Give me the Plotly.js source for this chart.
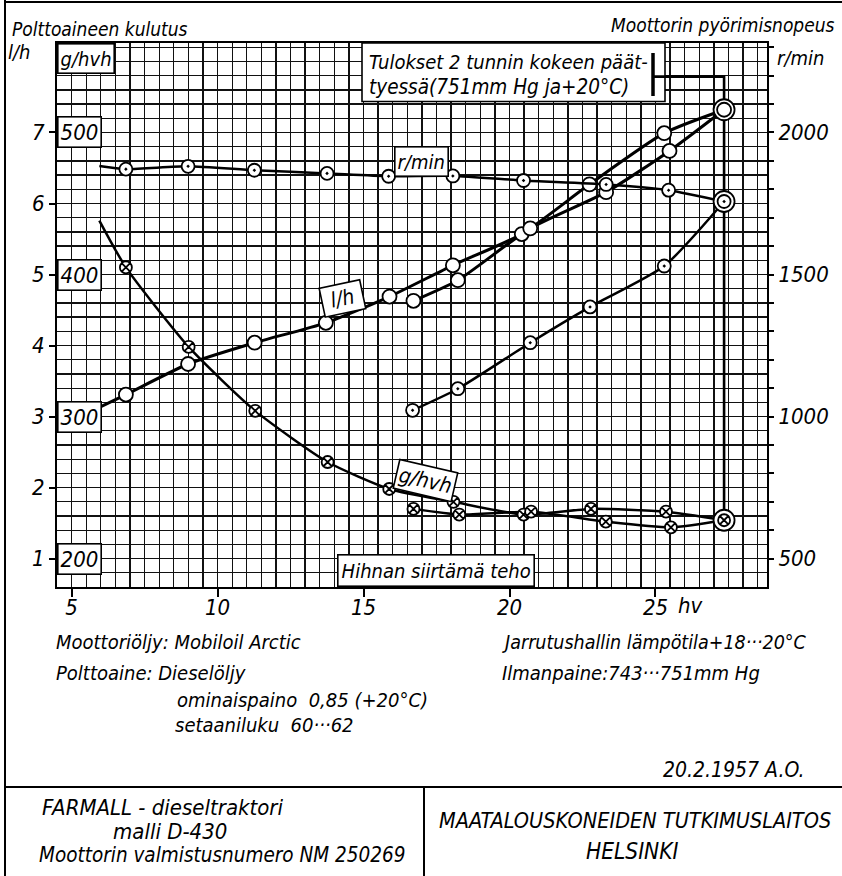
<!DOCTYPE html>
<html><head><meta charset="utf-8">
<script src="https://cdn.plot.ly/plotly-3.0.1.min.js"></script>
<style>html,body{margin:0;padding:0;background:#fff}#chart{width:842px;height:876px}</style>
</head><body><div id="chart"></div>
<script>
// ---- Data ----
// Engine speed r/min, governed (partial load) series
const hvSpeedGov  = [6.86, 8.99, 11.26, 13.75, 15.86, 18.06, 20.48, 23.31, 25.45];
const rpmSpeedGov = [1871, 1881, 1867, 1856, 1846, 1847, 1831, 1817, 1797];
// Engine speed r/min, full throttle series
const hvSpeedFull  = [16.68, 18.23, 20.71, 22.76, 25.30];
const rpmSpeedFull = [1022, 1098, 1260, 1386, 1530];
// Fuel consumption l/h
const hvFuelGov  = [6.86, 8.99, 11.27, 13.71, 15.89, 18.06, 20.42, 22.74, 25.30];
const lhFuelGov  = [3.31, 3.74, 4.04, 4.32, 4.69, 5.13, 5.57, 6.27, 6.99];
const hvFuelFull = [16.71, 18.23, 20.71, 23.31, 25.48];
const lhFuelFull = [4.63, 4.92, 5.65, 6.16, 6.74];
// Specific consumption g/hvh
const hvSpecGov  = [6.86, 9.01, 11.29, 13.77, 15.88, 18.08, 20.48, 22.79, 25.36];
const gSpecGov   = [405, 349, 304, 268, 249, 240, 231, 235, 233];
const hvSpecFull = [16.71, 18.28, 20.74, 23.30, 25.53];
const gSpecFull  = [235, 231, 233, 226, 222];
// Result at end of the 2-hour test (maximum power)
const hvMax = 27.35, rpmMax = 1757, lhMax = 7.32, gMax = 227;
// Left ends of the faired curves
const curveStartHv = 5.95, rpmCurveStart = 1882, lhCurveStart = 3.13, gCurveStart = 438;

// ---- Axis ticks ----
const xTickVals = [5, 10, 15, 20, 25];
const xTickText = ['5', '10', '15', '20', '25'];
const lhTickVals = [1, 2, 3, 4, 5, 6, 7];
const lhTickText = ['1', '2', '3', '4', '5', '6', '7'];
const gLabelVals = [200, 300, 400, 500];
const rpmLabelVals = [500, 1000, 1500, 2000];

// ---- geometry helpers (plot box in pixels) ----
const L = 57, R = 767, T = 43, B = 587;
const px = x => (x - L) / (R - L);
const py = y => (B - y) / (B - T);
// g/hvh scale expressed on the l/h scale (same grid)
const gToLh = g => (g - 150) / 50;
// leader level of the "results" pointer (on the l/h scale) and its start on the hv scale
const leaderLh = 7.787, leaderHv = 24.91;

const FONT = 'Liberation Sans Narrow, DejaVu Sans Condensed, Arial Narrow, sans-serif';
const f = (size) => ({family: FONT, size: size, color: '#000', style: 'italic'});

const rpmTickVals = [], rpmTickText = [];
for (let v = 500; v <= 2300; v += 100) {
  rpmTickVals.push(v);
  rpmTickText.push(rpmLabelVals.includes(v) ? String(v) : '');
}

const lineStyle = w => ({color: '#000', width: w, shape: 'spline', smoothing: 0.6});
const traces = [
  // pointer line from the results note down to the max-power points (drawn under the markers)
  {x: [leaderHv, hvMax, hvMax], y: [leaderLh, leaderLh, gToLh(gMax)], yaxis: 'y', mode: 'lines', line: {color: '#000', width: 2.6}},
  {x: [curveStartHv].concat(hvSpeedGov, [hvMax]), y: [rpmCurveStart].concat(rpmSpeedGov, [rpmMax]), yaxis: 'y2', mode: 'lines', line: lineStyle(2.5)},
  {x: hvSpeedFull.concat([hvMax]), y: rpmSpeedFull.concat([rpmMax]), yaxis: 'y2', mode: 'lines', line: lineStyle(2.5)},
  {x: [curveStartHv].concat(hvFuelGov, [hvMax]), y: [lhCurveStart].concat(lhFuelGov, [lhMax]), yaxis: 'y', mode: 'lines', line: lineStyle(3)},
  {x: hvFuelFull.concat([hvMax]), y: lhFuelFull.concat([lhMax]), yaxis: 'y', mode: 'lines', line: lineStyle(3)},
  {x: [curveStartHv].concat(hvSpecGov, [hvMax]), y: [gCurveStart].concat(gSpecGov, [gMax]), yaxis: 'y3', mode: 'lines', line: lineStyle(2.5)},
  {x: hvSpecFull.concat([hvMax]), y: gSpecFull.concat([gMax]), yaxis: 'y3', mode: 'lines', line: lineStyle(2.5)},
];
const mk = (sym, size) => ({symbol: sym, size: size, color: '#fff', line: {color: '#000', width: 1.8}});
// rings for max-power points
traces.push({x: [hvMax], y: [rpmMax], yaxis: 'y2', mode: 'markers', marker: mk('circle', 21)});
traces.push({x: [hvMax], y: [lhMax], yaxis: 'y', mode: 'markers', marker: mk('circle', 21)});
traces.push({x: [hvMax], y: [gMax], yaxis: 'y3', mode: 'markers', marker: mk('circle', 21)});
// data points
traces.push({x: hvSpeedGov.concat(hvSpeedFull, [hvMax]), y: rpmSpeedGov.concat(rpmSpeedFull, [rpmMax]), yaxis: 'y2', mode: 'markers', marker: mk('circle-dot', 13)});
traces.push({x: hvFuelGov.concat(hvFuelFull, [hvMax]), y: lhFuelGov.concat(lhFuelFull, [lhMax]), yaxis: 'y', mode: 'markers', marker: mk('circle', 14)});
traces.push({x: hvSpecGov.concat(hvSpecFull, [hvMax]), y: gSpecGov.concat(gSpecFull, [gMax]), yaxis: 'y3', mode: 'markers', marker: mk('circle-x', 12)});

const GRID = '#111';
const ann = [];
const txt = (text, x, y, size, xanchor, opts) => ann.push(Object.assign({
  text: text, xref: 'paper', yref: 'paper', x: px(x), y: py(y), xanchor: xanchor || 'left', yanchor: 'middle',
  showarrow: false, font: f(size)}, opts || {}));
const boxStyle = {bgcolor: '#fff', bordercolor: '#000', borderwidth: 1.6, borderpad: 2};

// headers
txt('Polttoaineen kulutus', 10, 29, 19);
txt('l/h', 6, 52, 20);
txt('Moottorin pyörimisnopeus', 837, 25, 19, 'right');
txt('r/min', 775, 58, 20);
ann.push(Object.assign({text: 'g/hvh', xref: 'paper', yref: 'paper', x: 0, y: 1, xanchor: 'left', yanchor: 'top', showarrow: false, font: f(20)}, boxStyle));
gLabelVals.forEach(v => ann.push(Object.assign({text: String(v), xref: 'paper', yref: 'y3', x: 0, y: v, xanchor: 'left', yanchor: 'middle', showarrow: false, font: f(22)}, boxStyle)));
// curve labels
ann.push(Object.assign({text: 'r/min', xref: 'x', yref: 'y', x: 16.98, y: 6.59, showarrow: false, font: f(20)}, boxStyle));
ann.push(Object.assign({text: '&nbsp;l/h&nbsp;', xref: 'x', yref: 'y', x: 14.27, y: 4.66, textangle: -12, showarrow: false, font: f(21)}, boxStyle));
ann.push(Object.assign({text: 'g/hvh', xref: 'x', yref: 'y3', x: 17.11, y: 255, textangle: 13, showarrow: false, font: f(21)}, boxStyle));
ann.push(Object.assign({text: 'Hihnan siirtämä teho', xref: 'paper', yref: 'paper', x: px(436), y: 0, xanchor: 'center', yanchor: 'bottom', showarrow: false, font: f(20)}, boxStyle, {borderpad: 3}));
ann.push({text: 'hv', xref: 'x', yref: 'paper', x: 26.2, y: py(605), xanchor: 'center', yanchor: 'middle', showarrow: false, font: f(22)});
// results box text
txt('Tulokset 2 tunnin kokeen päät-', 367, 62, 20);
txt('tyessä(751mm Hg ja+20°C)', 367, 87, 20.5);
// bottom texts
txt('Moottoriöljy: Mobiloil Arctic', 54, 642, 20);
txt('Polttoaine: Dieselöljy', 54, 673, 20);
txt('ominaispaino  0,85 (+20°C)', 175, 700, 20);
txt('setaaniluku  60···62', 173, 725, 20);
txt('Jarrutushallin lämpötila+18···20°C', 500, 642, 19.5);
txt('Ilmanpaine:743···751mm Hg', 500, 673, 20);
txt('20.2.1957 A.O.', 806, 770, 21, 'right');
txt('FARMALL - dieseltraktori', 40, 807, 22);
txt('malli D-430', 111, 831, 22);
txt('Moottorin valmistusnumero NM 250269', 37, 855, 20.5);
txt('MAATALOUSKONEIDEN TUTKIMUSLAITOS', 635, 820, 21.5, 'center');
txt('HELSINKI', 632, 851, 22.5, 'center');

const shapes = [
  // results box (white, above the grid) and its pointer bracket
  {type: 'rect', xref: 'paper', yref: 'paper', x0: px(362), x1: px(665), y0: py(101.5), y1: 1, fillcolor: '#fff', line: {color: '#000', width: 1.6}, layer: 'above'},
  {type: 'line', xref: 'paper', yref: 'paper', x0: px(653), x1: px(653), y0: py(53), y1: py(96), line: {color: '#000', width: 3.5}, layer: 'above'},
  {type: 'line', xref: 'x', yref: 'y', x0: leaderHv, x1: 26.2, y0: leaderLh, y1: leaderLh, line: {color: '#000', width: 2.6}, layer: 'above'},
  // page frame and title block
  {type: 'line', xref: 'paper', yref: 'paper', x0: px(5), x1: px(5), y0: py(0), y1: py(876), line: {color: '#000', width: 2}},
  {type: 'line', xref: 'paper', yref: 'paper', x0: px(5), x1: px(842), y0: py(2), y1: py(2), line: {color: '#000', width: 2}},
  {type: 'line', xref: 'paper', yref: 'paper', x0: px(5), x1: px(842), y0: py(787), y1: py(787), line: {color: '#000', width: 2}},
  {type: 'line', xref: 'paper', yref: 'paper', x0: px(424), x1: px(424), y0: py(787), y1: py(876), line: {color: '#000', width: 2}},
];

const layout = {
  width: 842, height: 876,
  margin: {l: L, r: 842 - R, t: T, b: 876 - B, pad: 0},
  paper_bgcolor: '#fff', plot_bgcolor: '#fff',
  showlegend: false,
  xaxis: {range: [4.5, 28.82], tickvals: xTickVals, ticktext: xTickText, ticks: 'outside', ticklen: 8, tickwidth: 2, tickcolor: '#000',
    ticklabelstandoff: -8,
    showline: true, mirror: true, linewidth: 2, linecolor: '#000', showgrid: true, gridcolor: GRID, gridwidth: 1.3, zeroline: false,
    minor: {dtick: 0.5, tick0: 4.5, showgrid: true, gridcolor: GRID, gridwidth: 1.3, ticks: ''}, tickfont: f(22), fixedrange: true},
  yaxis: {range: [0.6, 8.26], tickvals: lhTickVals, ticktext: lhTickText, ticks: 'outside', ticklen: 6, tickwidth: 2, tickcolor: '#000',
    showline: true, mirror: true, linewidth: 2, linecolor: '#000', showgrid: true, gridcolor: GRID, gridwidth: 1.3, zeroline: false,
    minor: {dtick: 0.2, tick0: 0.6, showgrid: true, gridcolor: GRID, gridwidth: 1.3, ticks: ''}, tickfont: f(22), fixedrange: true},
  yaxis2: {overlaying: 'y', side: 'right', range: [400, 2315], tickvals: rpmTickVals, ticktext: rpmTickText, ticks: 'outside', ticklen: 6, tickwidth: 2,
    tickcolor: '#000', showline: false, showgrid: false, zeroline: false, tickfont: f(22), fixedrange: true},
  yaxis3: {overlaying: 'y', range: [180, 563], visible: false, showgrid: false, zeroline: false, fixedrange: true},
  annotations: ann,
  shapes: shapes,
};
Plotly.newPlot('chart', traces, layout, {staticPlot: true, displayModeBar: false});
</script>
</body></html>
